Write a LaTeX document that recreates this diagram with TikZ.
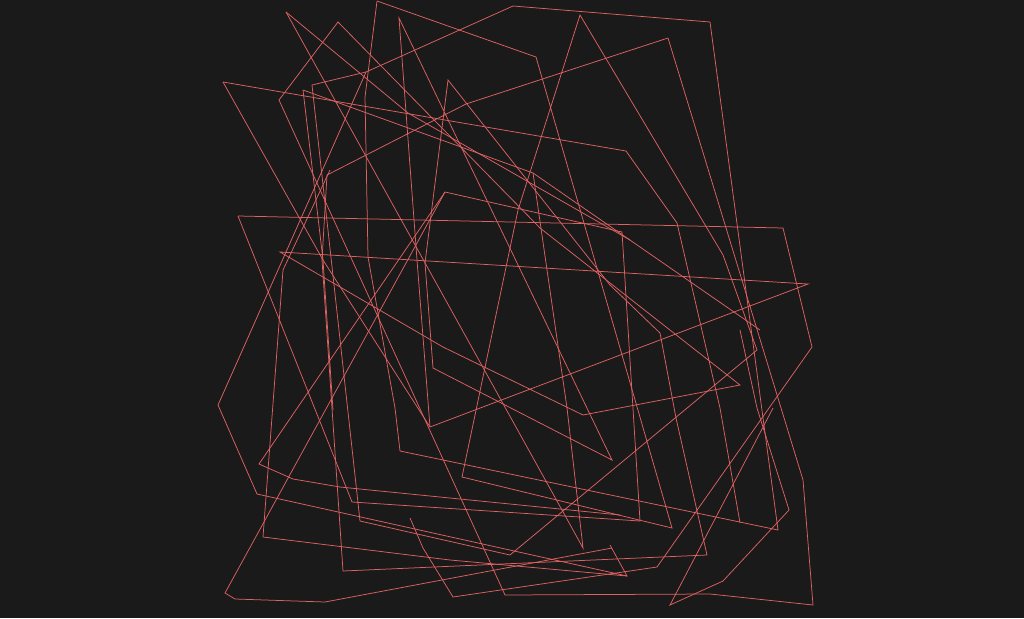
\documentclass[tikz,border=0pt]{standalone}
\usepackage{tikz}
\definecolor{bg}{HTML}{1A1A1A}
\definecolor{ln}{HTML}{DE6262}
\begin{document}
\begin{tikzpicture}[x=1pt,y=-1pt,ln/.style={draw=ln,line width=0.75pt,line join=miter}]
\fill[bg] (0,0) rectangle (1024,618);
\useasboundingbox (0,0) rectangle (1024,618);
% main chains
\draw[ln] (377,1) -- (536,57) -- (672,528) -- (462,477) -- (518,210) -- (580,15) -- (723,255) -- (757,350) -- (510,555) -- (360,521) -- (312,85) -- (366,72);
\draw[ln] (513,6) -- (710,22) -- (778,530) -- (400,451) -- (395,408) -- (368,257) -- (365,97) -- (377,1);
\draw[ln] (513,6) -- (366,72) -- (218,405) -- (257,494) -- (627,576) -- (610,545);
\draw[ln] (668,38) -- (803,480) -- (813,605) -- (710,594) -- (505,595) -- (279,100) -- (338,22) -- (540,228) -- (740,385) -- (583,415) -- (443,347) -- (280,252) -- (808,284) -- (430,427);
\draw[ln] (668,38) -- (466,104) -- (327,175) -- (322,260) -- (343,571) -- (707,555) -- (676,418) -- (660,333) -- (610,285) -- (448,80) -- (425,263) -- (433,368) -- (612,460) -- (399,18) -- (417,260) -- (430,427);
\draw[ln] (223,82) -- (626,151) -- (677,223) -- (720,408) -- (740,523);
\draw[ln] (223,82) -- (323,260) -- (430,427);
\draw[ln] (238,216) -- (783,228) -- (812,347) -- (657,567) -- (453,597) -- (423,548) -- (410,518);
\draw[ln] (238,216) -- (352,502) -- (640,521) -- (622,232) -- (445,192) -- (259,464) -- (293,479) -- (340,487) -- (620,515);
\draw[ln] (286,12) -- (583,548) -- (567,408) -- (533,173);
\draw[ln] (286,12) -- (408,113) -- (630,240);
\draw[ln] (303,90) -- (533,173) -- (760,330);
\draw[ln] (303,90) -- (323,260) -- (333,410);
\draw[ln] (445,192) -- (225,593) -- (235,599) -- (325,602) -- (612,548);
\draw[ln] (263,537) -- (283,270) -- (330,170);
\draw[ln] (263,537) -- (450,560) -- (627,576);
\draw[ln] (789,510) -- (723,581) -- (670,605) -- (773,408);
\draw[ln] (789,510) -- (757,408) -- (740,330);
\end{tikzpicture}
\end{document}
